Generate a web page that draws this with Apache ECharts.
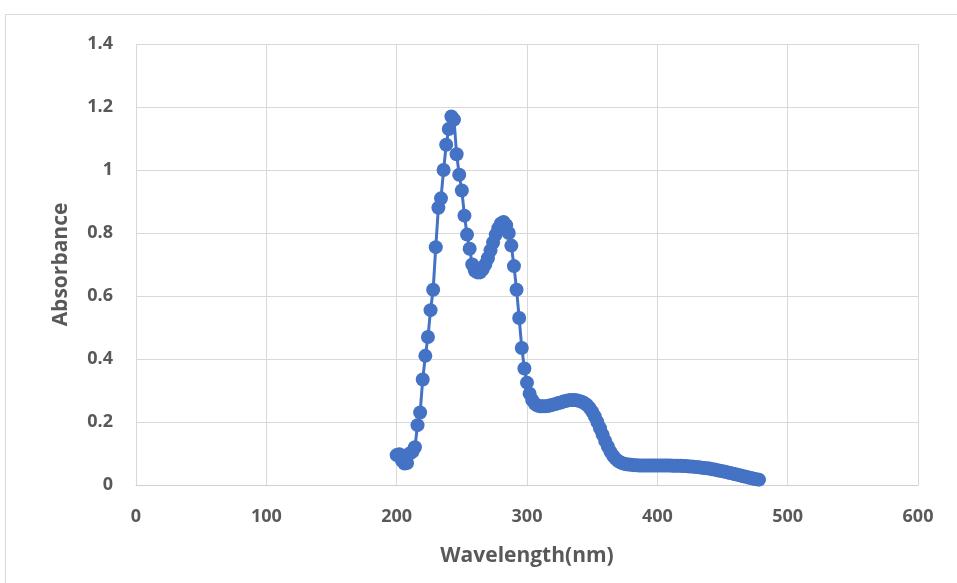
<!DOCTYPE html>
<html>
<head>
<meta charset="utf-8">
<script src="https://cdn.jsdelivr.net/npm/echarts@6/dist/echarts.min.js"></script>
<style>
  html, body { margin: 0; padding: 0; background: #fff; }
  #chart { width: 957px; height: 583px; }
</style>
</head>
<body>
<div id="chart"></div>
<script>
// wavelength (nm), 2 nm steps
var wavelength = [
  200, 202, 204, 206, 208, 210, 212, 214, 216, 218,
  220, 222, 224, 226, 228, 230, 232, 234, 236, 238,
  240, 242, 244, 246, 248, 250, 252, 254, 256, 258,
  260, 262, 264, 266, 268, 270, 272, 274, 276, 278,
  280, 282, 284, 286, 288, 290, 292, 294, 296, 298,
  300, 302, 304, 306, 308, 310, 312, 314, 316, 318,
  320, 322, 324, 326, 328, 330, 332, 334, 336, 338,
  340, 342, 344, 346, 348, 350, 352, 354, 356, 358,
  360, 362, 364, 366, 368, 370, 372, 374, 376, 378,
  380, 382, 384, 386, 388, 390, 392, 394, 396, 398,
  400, 402, 404, 406, 408, 410, 412, 414, 416, 418,
  420, 422, 424, 426, 428, 430, 432, 434, 436, 438,
  440, 442, 444, 446, 448, 450, 452, 454, 456, 458,
  460, 462, 464, 466, 468, 470, 472, 474, 476, 478
];

var absorbance = [
  0.095, 0.098, 0.078, 0.068, 0.07, 0.1, 0.105, 0.12, 0.19, 0.23,
  0.335, 0.41, 0.47, 0.555, 0.62, 0.755, 0.88, 0.91, 1.0, 1.08,
  1.13, 1.17, 1.16, 1.05, 0.985, 0.935, 0.855, 0.795, 0.75, 0.70,
  0.68, 0.675, 0.675, 0.685, 0.70, 0.72, 0.745, 0.77, 0.795, 0.815,
  0.83, 0.835, 0.825, 0.80, 0.76, 0.695, 0.62, 0.53, 0.435, 0.37,
  0.325, 0.29, 0.27, 0.258, 0.252, 0.25, 0.25, 0.25, 0.251, 0.253,
  0.255, 0.257, 0.26, 0.262, 0.265, 0.267, 0.269, 0.27, 0.27, 0.269,
  0.267, 0.264, 0.26, 0.254, 0.245, 0.233, 0.218, 0.2, 0.18, 0.16,
  0.14, 0.122, 0.106, 0.093, 0.083, 0.076, 0.071, 0.068, 0.066, 0.065,
  0.064, 0.063, 0.063, 0.062, 0.062, 0.062, 0.062, 0.062, 0.062, 0.062,
  0.062, 0.062, 0.062, 0.062, 0.062, 0.062, 0.061, 0.061, 0.061, 0.061,
  0.06, 0.06, 0.059, 0.059, 0.058, 0.057, 0.056, 0.055, 0.054, 0.053,
  0.052, 0.05, 0.049, 0.047, 0.045, 0.044, 0.042, 0.04, 0.038, 0.036,
  0.034, 0.032, 0.03, 0.028, 0.026, 0.024, 0.022, 0.02, 0.018, 0.017
];

var points = wavelength.map(function (w, i) { return [w, absorbance[i]]; });

var chart = echarts.init(document.getElementById('chart'));

var labelFont = {
  color: '#595959',
  fontSize: 18,
  fontWeight: 'bold',
  fontFamily: 'Open Sans, Liberation Sans, sans-serif'
};

var option = {
  animation: false,
  backgroundColor: '#fff',
  graphic: [
    {
      type: 'rect',
      shape: { x: 5.5, y: 14.5, width: 960, height: 580 },
      style: { fill: 'none', stroke: '#d9d9d9', lineWidth: 1 },
      silent: true
    }
  ],
  grid: { left: 136, right: 39, top: 44, bottom: 98 },
  xAxis: {
    type: 'value',
    min: 0,
    max: 600,
    interval: 100,
    name: 'Wavelength(nm)',
    nameLocation: 'middle',
    nameGap: 61,
    nameTextStyle: Object.assign({}, labelFont, { fontSize: 21 }),
    axisLine: { show: true, lineStyle: { color: '#d0d0d0', width: 1 } },
    axisTick: { show: false },
    axisLabel: Object.assign({}, labelFont, { margin: 23 }),
    splitLine: { show: true, lineStyle: { color: '#d9d9d9', width: 1 } }
  },
  yAxis: {
    type: 'value',
    min: 0,
    max: 1.4,
    interval: 0.2,
    name: 'Absorbance',
    nameLocation: 'middle',
    nameGap: 64,
    nameTextStyle: Object.assign({}, labelFont, { fontSize: 21 }),
    axisLine: { show: false },
    axisTick: { show: false },
    axisLabel: Object.assign({}, labelFont, { margin: 23 }),
    splitLine: { show: true, lineStyle: { color: '#d9d9d9', width: 1 } }
  },
  series: [
    {
      type: 'line',
      data: points,
      color: '#4472C4',
      symbol: 'circle',
      symbolSize: 14,
      showAllSymbol: true,
      lineStyle: { width: 3, color: '#4472C4' },
      itemStyle: { color: '#4472C4' }
    }
  ]
};

chart.setOption(option);
</script>
</body>
</html>
